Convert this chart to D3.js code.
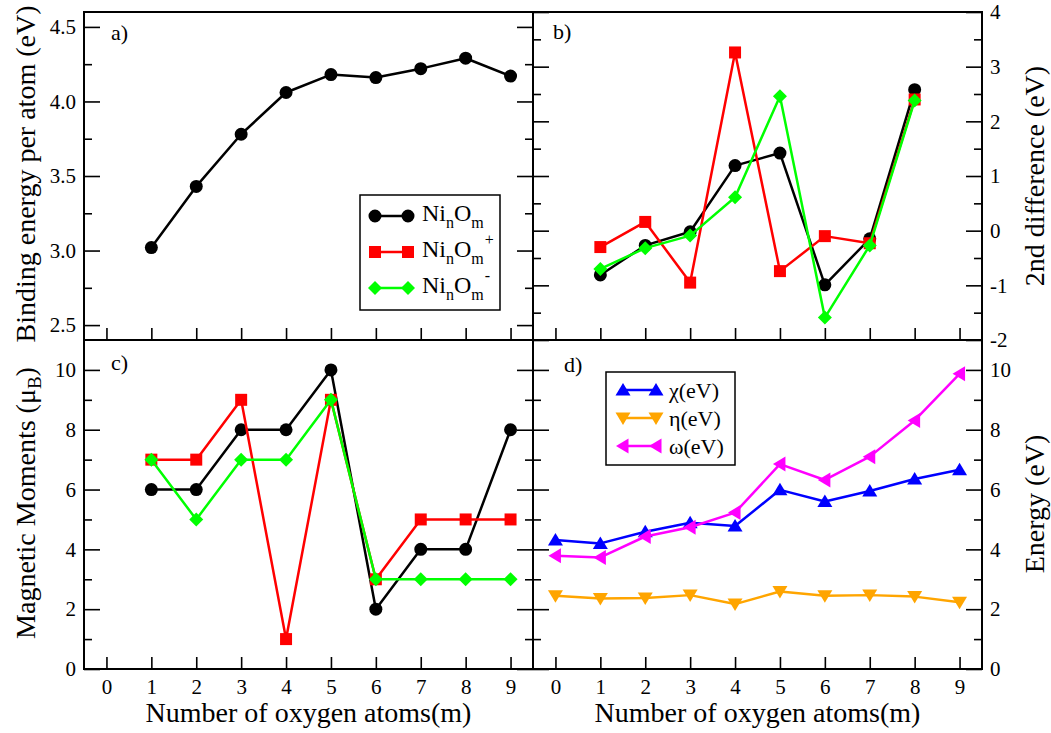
<!DOCTYPE html>
<html>
<head>
<meta charset="utf-8">
<script src="https://cdn.jsdelivr.net/npm/d3@7"></script>
<style>
  body { margin: 0; background: #fff; }
  svg { display: block; }
  svg text { font-family: 'Liberation Serif', 'Times New Roman', 'DejaVu Serif', serif; }
</style>
</head>
<body>
<svg id="chart" width="1051" height="733" font-family="Liberation Serif, Times New Roman, DejaVu Serif, serif"></svg>
<script>
// Oxygen count shown on every x axis
const oxygenTicks = [0, 1, 2, 3, 4, 5, 6, 7, 8, 9];

// a) binding energy per atom of NinOm, m = 1..9
const bindingM = [1, 2, 3, 4, 5, 6, 7, 8, 9];
const bindingNeutral = [3.02, 3.43, 3.78, 4.06, 4.18, 4.16, 4.22, 4.29, 4.17];

// b) second difference in energy, m = 1..8
const diffM = [1, 2, 3, 4, 5, 6, 7, 8];
const diffNeutral = [-0.81, -0.27, -0.02, 1.19, 1.42, -0.99, -0.15, 2.58];
const diffCation  = [-0.30, 0.16, -0.95, 3.26, -0.74, -0.10, -0.23, 2.40];
const diffAnion   = [-0.70, -0.32, -0.09, 0.61, 2.46, -1.59, -0.27, 2.38];

// c) total magnetic moments, m = 1..9
const momentM = [1, 2, 3, 4, 5, 6, 7, 8, 9];
const momentNeutral = [6, 6, 8, 8, 10, 2, 4, 4, 8];
const momentCation  = [7, 7, 9, 1, 9, 3, 5, 5, 5];
const momentAnion   = [7, 5, 7, 7, 9, 3, 3, 3, 3];

// d) chemical potential / hardness / electrophilicity, m = 0..9
const descriptorM = [0, 1, 2, 3, 4, 5, 6, 7, 8, 9];
const chiValues   = [4.31, 4.20, 4.59, 4.89, 4.78, 5.99, 5.60, 5.95, 6.35, 6.66];
const etaValues   = [2.45, 2.36, 2.37, 2.47, 2.17, 2.59, 2.45, 2.47, 2.42, 2.23];
const omegaValues = [3.79, 3.73, 4.43, 4.74, 5.23, 6.85, 6.32, 7.10, 8.31, 9.87];

// y tick values
const bindingTicks = [2.5, 3.0, 3.5, 4.0, 4.5];
const bindingMinor = [2.75, 3.25, 3.75, 4.25];
const diffTicks = [-2, -1, 0, 1, 2, 3, 4];
const diffMinor = [-1.5, -0.5, 0.5, 1.5, 2.5, 3.5];
const momentTicks = [0, 2, 4, 6, 8, 10];
const momentMinor = [1, 3, 5, 7, 9];
const energyTicks = [0, 2, 4, 6, 8, 10];
const energyMinor = [1, 3, 5, 7, 9];

const SERIF = "Liberation Serif, Times New Roman, DejaVu Serif, serif";
const svg = d3.select("#chart");

// panel grid
const X0 = 84, XM = 533, X1 = 982;
const Y0 = 12, YM = 340, Y1 = 669;

const xLeft  = d3.scaleLinear().domain([-0.5, 9.5]).range([X0, XM]);
const xRight = d3.scaleLinear().domain([-0.5, 9.5]).range([XM, X1]);
const yA = d3.scaleLinear().domain([2.4, 4.6]).range([YM, Y0]);
const yB = d3.scaleLinear().domain([-2, 4]).range([YM, Y0]);
const yC = d3.scaleLinear().domain([0, 11]).range([Y1, YM]);
const yD = d3.scaleLinear().domain([0, 11]).range([Y1, YM]);

const TICK_FONT = 21;
const LINE_W = 2.5;

// marker shapes centred on (x, y)
const markers = {
  circle: (x, y) => `M${x - 6.5},${y}a6.5,6.5 0 1,0 13,0a6.5,6.5 0 1,0 -13,0Z`,
  square: (x, y) => `M${x - 6},${y - 6}h12v12h-12Z`,
  diamond: (x, y) => `M${x},${y - 7}L${x + 7},${y}L${x},${y + 7}L${x - 7},${y}Z`,
  triUp: (x, y) => `M${x},${y - 7}L${x + 7.5},${y + 5.5}L${x - 7.5},${y + 5.5}Z`,
  triDown: (x, y) => `M${x},${y + 7}L${x + 7.5},${y - 5.5}L${x - 7.5},${y - 5.5}Z`,
  triLeft: (x, y) => `M${x - 7},${y}L${x + 5.5},${y - 7.5}L${x + 5.5},${y + 7.5}Z`
};

function styleAxis(g) {
  g.select(".domain").remove();
  g.attr("font-family", SERIF).attr("font-size", TICK_FONT);
  g.selectAll(".tick line").attr("stroke", "#000").attr("stroke-width", 1.6);
  g.selectAll(".tick text").attr("fill", "#000");
}

function drawAxes(x, y, opt) {
  const [xa, xb] = x.range();
  const [yBot, yTop] = y.range();
  const g = svg.append("g");

  // bottom ticks (labels only on the lower row)
  g.append("g").attr("transform", `translate(0,${yBot})`)
    .call(d3.axisBottom(x).tickValues(oxygenTicks).tickSize(-12).tickPadding(10)
      .tickFormat(opt.xLabels ? d => String(d) : () => ""))
    .call(styleAxis);

  const labelSide = opt.side === "left";
  const mainX = labelSide ? xa : xb;
  const mirrorX = labelSide ? xb : xa;
  const mainAxis = () => labelSide ? d3.axisLeft(y) : d3.axisRight(y);
  const mirrorAxis = () => labelSide ? d3.axisRight(y) : d3.axisLeft(y);

  g.append("g").attr("transform", `translate(${mainX},0)`)
    .call(mainAxis().tickValues(opt.ticks).tickSize(-16).tickPadding(8).tickFormat(opt.format))
    .call(styleAxis);
  g.append("g").attr("transform", `translate(${mainX},0)`)
    .call(mainAxis().tickValues(opt.minor).tickSize(-8).tickFormat(() => ""))
    .call(styleAxis);
  g.append("g").attr("transform", `translate(${mirrorX},0)`)
    .call(mirrorAxis().tickValues(opt.ticks).tickSize(-16).tickFormat(() => ""))
    .call(styleAxis);
  g.append("g").attr("transform", `translate(${mirrorX},0)`)
    .call(mirrorAxis().tickValues(opt.minor).tickSize(-8).tickFormat(() => ""))
    .call(styleAxis);

  // frame
  g.append("rect")
    .attr("x", xa).attr("y", yTop).attr("width", xb - xa).attr("height", yBot - yTop)
    .attr("fill", "none").attr("stroke", "#000").attr("stroke-width", 2);
}

function drawSeries(x, y, xs, ys, color, marker) {
  const pts = xs.map((m, i) => [x(m), y(ys[i])]);
  const g = svg.append("g");
  g.append("path").attr("d", d3.line()(pts))
    .attr("fill", "none").attr("stroke", color).attr("stroke-width", LINE_W)
    .attr("stroke-linejoin", "round");
  g.selectAll("path.mk").data(pts).join("path").attr("class", "mk")
    .attr("d", p => markers[marker](p[0], p[1])).attr("fill", color);
}

const plain = d => String(d);

// ---- panels ----
drawAxes(xLeft, yA, { side: "left", ticks: bindingTicks, minor: bindingMinor, format: d3.format(".1f"), xLabels: false });
drawAxes(xRight, yB, { side: "right", ticks: diffTicks, minor: diffMinor, format: plain, xLabels: false });
drawAxes(xLeft, yC, { side: "left", ticks: momentTicks, minor: momentMinor, format: plain, xLabels: true });
drawAxes(xRight, yD, { side: "right", ticks: energyTicks, minor: energyMinor, format: plain, xLabels: true });

drawSeries(xLeft, yA, bindingM, bindingNeutral, "#000", "circle");

drawSeries(xRight, yB, diffM, diffNeutral, "#000", "circle");
drawSeries(xRight, yB, diffM, diffCation, "#ff0000", "square");
drawSeries(xRight, yB, diffM, diffAnion, "#00ff00", "diamond");

drawSeries(xLeft, yC, momentM, momentNeutral, "#000", "circle");
drawSeries(xLeft, yC, momentM, momentCation, "#ff0000", "square");
drawSeries(xLeft, yC, momentM, momentAnion, "#00ff00", "diamond");

drawSeries(xRight, yD, descriptorM, chiValues, "#0000ff", "triUp");
drawSeries(xRight, yD, descriptorM, etaValues, "#ffa500", "triDown");
drawSeries(xRight, yD, descriptorM, omegaValues, "#ff00ff", "triLeft");

// ---- panel tags ----
const tags = [["a)", 111, 40], ["b)", 553, 39], ["c)", 111, 370], ["d)", 564, 372]];
svg.append("g").selectAll("text").data(tags).join("text")
  .attr("x", d => d[1]).attr("y", d => d[2])
  .attr("font-family", SERIF).attr("font-size", 22).text(d => d[0]);

// ---- axis titles ----
const TITLE_FONT = 28;
function title(x, y, rotate, build) {
  const t = svg.append("text")
    .attr("transform", `translate(${x},${y})${rotate ? " rotate(-90)" : ""}`)
    .attr("text-anchor", "middle").attr("font-family", SERIF).attr("font-size", TITLE_FONT);
  build(t);
}
title(34.5, 174, true, t => t.text("Binding energy per atom (eV)"));
title(34.5, 503, true, t => {
  t.append("tspan").text("Magnetic Moments (\u03bc");
  t.append("tspan").attr("font-size", 19).attr("dy", 6).text("B");
  t.append("tspan").attr("dy", -6).text(")");
});
title(1044, 176, true, t => t.text("2nd difference (eV)"));
title(1044, 504, true, t => t.text("Energy (eV)"));
title((X0 + XM) / 2, 722, false, t => t.text("Number of oxygen atoms(m)"));
title((XM + X1) / 2, 722, false, t => t.text("Number of oxygen atoms(m)"));

// ---- legends ----
const speciesLabels = ["", "+", "-"];
const speciesColors = ["#000", "#ff0000", "#00ff00"];
const speciesMarkers = ["circle", "square", "diamond"];

const legA = svg.append("g");
legA.append("rect").attr("x", 360).attr("y", 195).attr("width", 140).attr("height", 115)
  .attr("fill", "#fff").attr("stroke", "#000").attr("stroke-width", 1.5);
speciesLabels.forEach((charge, i) => {
  const cy = 216 + i * 36;
  legA.append("line").attr("x1", 375).attr("x2", 408).attr("y1", cy).attr("y2", cy)
    .attr("stroke", speciesColors[i]).attr("stroke-width", LINE_W);
  [375, 408].forEach(px => legA.append("path").attr("d", markers[speciesMarkers[i]](px, cy)).attr("fill", speciesColors[i]));
  const t = legA.append("text").attr("x", 422).attr("y", cy + 5)
    .attr("font-family", SERIF).attr("font-size", 24);
  t.append("tspan").text("Ni");
  t.append("tspan").attr("font-size", 16).attr("dy", 7).text("n");
  t.append("tspan").attr("dy", -7).text("O");
  t.append("tspan").attr("font-size", 16).attr("dy", 7).text("m");
  if (charge) t.append("tspan").attr("font-size", 16).attr("dx", 1).attr("dy", -19).text(charge);
});

const descriptorLabels = ["\u03c7(eV)", "\u03b7(eV)", "\u03c9(eV)"];
const descriptorColors = ["#0000ff", "#ffa500", "#ff00ff"];
const descriptorMarkers = ["triUp", "triDown", "triLeft"];

const legD = svg.append("g");
legD.append("rect").attr("x", 606).attr("y", 372).attr("width", 129).attr("height", 93)
  .attr("fill", "#fff").attr("stroke", "#000").attr("stroke-width", 1.5);
descriptorLabels.forEach((label, i) => {
  const cy = 390 + i * 28;
  legD.append("line").attr("x1", 623).attr("x2", 656).attr("y1", cy).attr("y2", cy)
    .attr("stroke", descriptorColors[i]).attr("stroke-width", LINE_W);
  [623, 656].forEach(px => legD.append("path").attr("d", markers[descriptorMarkers[i]](px, cy)).attr("fill", descriptorColors[i]));
  legD.append("text").attr("x", 669).attr("y", cy + 8)
    .attr("font-family", SERIF).attr("font-size", 22).text(label);
});
</script>
</body>
</html>
